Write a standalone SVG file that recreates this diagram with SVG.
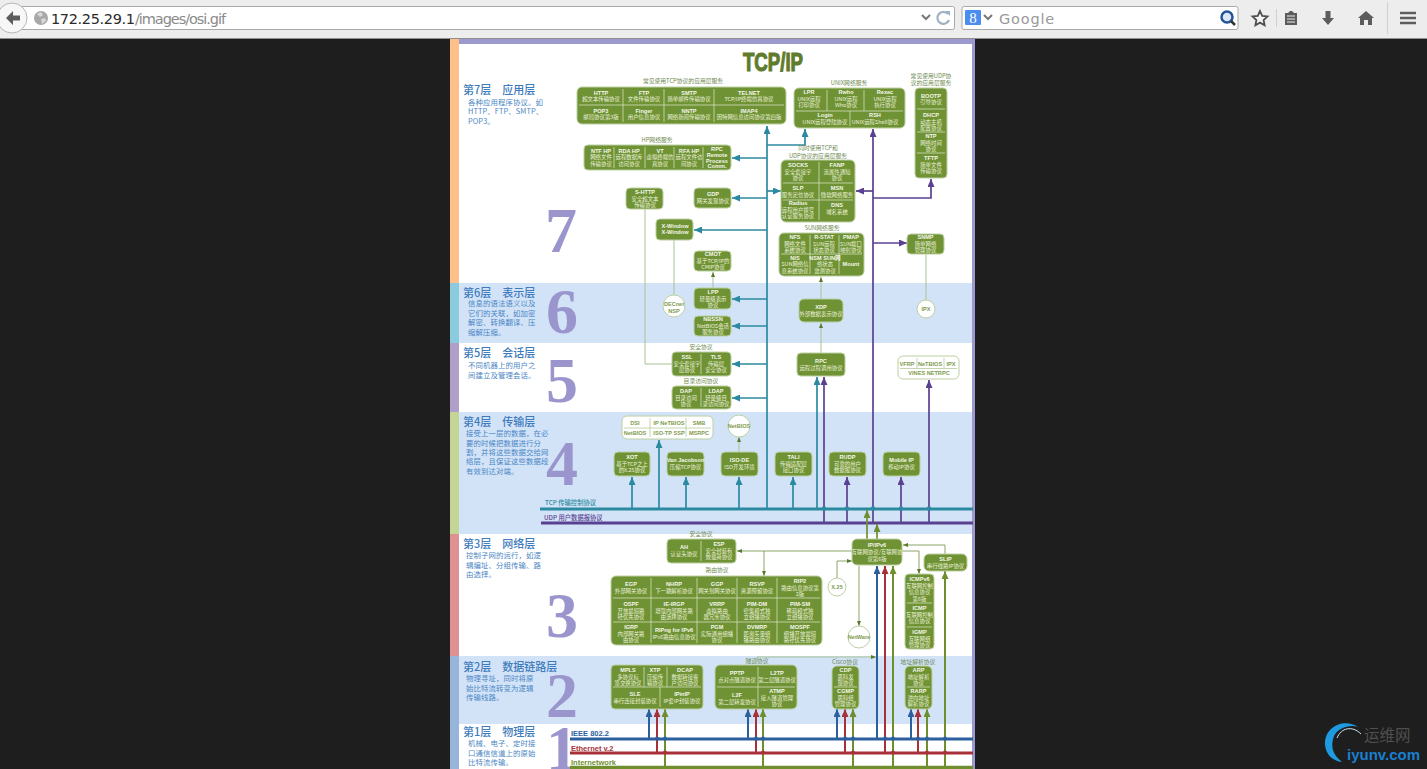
<svg xmlns="http://www.w3.org/2000/svg" width="1427" height="769" viewBox="0 0 1427 769">
<style>
text{font-family:"Noto Sans CJK SC","Liberation Sans",sans-serif}
.n{fill:#6f9234;stroke:#bcd0a2;stroke-width:1}
.w{fill:#fff;stroke:#bcd0a2;stroke-width:1}
.d{stroke:#d3dfbc;stroke-width:.8;fill:none}
.t{fill:#eef3df;font-size:5.4px;text-anchor:middle}
.b{fill:#f4f7ea;font-size:5.6px;font-weight:700;text-anchor:middle;font-family:"Liberation Sans","Noto Sans CJK SC",sans-serif}
.g{fill:#7f9b4f;font-size:5.6px;text-anchor:middle;font-weight:700;font-family:"Liberation Sans","Noto Sans CJK SC",sans-serif}
.c{fill:#6f8a52;font-size:5.8px;text-anchor:middle}
.h{fill:#3f7cbc;font-size:11px;font-weight:500}
.p{fill:#4a86c4;font-size:7.4px;letter-spacing:.1px}
.big{fill:#9a96cd;font-size:64px;font-weight:700;font-family:"Liberation Serif",serif}
.l{fill:none;stroke-width:1.7}
.k{fill:none;stroke-width:2}
.te{stroke:#2c8aa0}.pu{stroke:#5a4090}.bl{stroke:#2c5f9e}.re{stroke:#a83038}.gr{stroke:#6f8f2f}
.lt{fill:none;stroke:#a9c293;stroke-width:1}
.th{fill:none;stroke:#7d9a55;stroke-width:.9}
.ico{fill:#5c5c5c}
</style>
<defs>
<marker id="aTe" markerUnits="userSpaceOnUse" markerWidth="8" markerHeight="7" refX="8" refY="3.500" orient="auto"><path d="M0 0L8 3.500L0 7z" fill="#2c8aa0"/></marker>
<marker id="aPu" markerUnits="userSpaceOnUse" markerWidth="8" markerHeight="7" refX="8" refY="3.500" orient="auto"><path d="M0 0L8 3.500L0 7z" fill="#5a4090"/></marker>
<marker id="aBl" markerUnits="userSpaceOnUse" markerWidth="8" markerHeight="7" refX="8" refY="3.500" orient="auto"><path d="M0 0L8 3.500L0 7z" fill="#2c5f9e"/></marker>
<marker id="aRe" markerUnits="userSpaceOnUse" markerWidth="8" markerHeight="7" refX="8" refY="3.500" orient="auto"><path d="M0 0L8 3.500L0 7z" fill="#a83038"/></marker>
<marker id="aGr" markerUnits="userSpaceOnUse" markerWidth="8" markerHeight="7" refX="8" refY="3.500" orient="auto"><path d="M0 0L8 3.500L0 7z" fill="#6f8f2f"/></marker>
<marker id="aSm" markerUnits="userSpaceOnUse" markerWidth="5" markerHeight="4" refX="5" refY="2" orient="auto"><path d="M0 0L5 2L0 4z" fill="#587a2a"/></marker>
</defs>

<rect width="1427" height="769" fill="#1e1e1e"/>

<g id="browser-chrome">
<rect width="1427" height="38" fill="#ededed"/>
<rect y="38" width="1427" height="1" fill="#8f8f8f"/>
<rect x="16" y="6.500" width="938.500" height="23" rx="2" fill="#fff" stroke="#a9a9a9"/>
<circle cx="12" cy="18" r="15" fill="#f7f7f7" stroke="#b5b5b5"/>
<path d="M6 18L13 11V15.500H20V20.500H13V25z" class="ico"/>
<circle cx="41" cy="18" r="7" fill="#a8a8a8"/>
<path d="M37 14l4-2 2 3-3 2zM41 19l4-1 1 3-4 3z" fill="#d8d8d8"/>
<text x="51" y="24" font-size="14.500" fill="#2b2b2b" style="font-family:'DejaVu Sans',sans-serif" textLength="84">172.25.29.1</text>
<text x="135" y="24" font-size="14.500" fill="#8a8a8a" style="font-family:'DejaVu Sans',sans-serif" textLength="91">/images/osi.gif</text>
<path d="M922 15l4 4 4-4" fill="none" stroke="#777" stroke-width="2"/>
<path d="M948 14a6 6 0 1 0 1 6" fill="none" stroke="#9fb2c4" stroke-width="2.200"/><path d="M945 11h5v5z" fill="#9fb2c4"/>
<rect x="962" y="6.500" width="276" height="23" rx="2" fill="#fff" stroke="#a9a9a9"/>
<rect x="965" y="10" width="16" height="15" rx="1" fill="#4a8cf0"/>
<text x="973" y="23" font-size="15" fill="#fff" text-anchor="middle" style="font-family:'Liberation Serif',serif">8</text>
<path d="M984 15l4 4 4-4" fill="none" stroke="#777" stroke-width="2"/>
<text x="999" y="24" font-size="14.500" fill="#999" letter-spacing=".8" style="font-family:'DejaVu Sans',sans-serif">Google</text>
<circle cx="1227" cy="17" r="5.500" fill="#dbe8f7" stroke="#23549a" stroke-width="2.500"/><path d="M1231 21l4 4" stroke="#333" stroke-width="2.500"/>
<path d="M1260 11l2.200 4.800 5.300.6-3.900 3.600 1 5.200-4.600-2.600-4.600 2.600 1-5.200-3.900-3.600 5.300-.6z" fill="#f4f4f4" stroke="#4f4f4f" stroke-width="1.800"/>
<rect x="1276" y="9" width="1" height="18" fill="#d0d0d0"/>
<path d="M1285 13h3l2-2h2l2 2h3v12h-12z" class="ico"/><path d="M1287 16h8M1287 19h8M1287 22h8" stroke="#eee"/>
<path d="M1325.500 11h5v7h3.500l-6 7-6-7h3.500z" class="ico"/>
<path d="M1366 11l-8 7h2v7h4v-5h4v5h4v-7h2z" class="ico"/>
<rect x="1387" y="2" width="1" height="32" fill="#d0d0d0"/>
<path d="M1400 13h16M1400 18h16M1400 23h16" stroke="#5c5c5c" stroke-width="2.500"/>
</g>

<g id="page">
<rect x="450" y="39" width="525" height="730" fill="#fff"/>
<rect x="459" y="283" width="513" height="60" fill="#d2e3f8"/>
<rect x="459" y="412" width="513" height="122" fill="#d2e3f8"/>
<rect x="459" y="656" width="513" height="68" fill="#d2e3f8"/>
<rect x="450" y="39" width="525" height="5" fill="#9b99cd"/>
<rect x="972" y="39" width="3" height="730" fill="#9b99cd"/>
<rect x="450" y="39" width="9" height="244" fill="#fdc08a"/>
<rect x="450" y="283" width="9" height="60" fill="#8ccadd"/>
<rect x="450" y="343" width="9" height="69" fill="#b09fc6"/>
<rect x="450" y="412" width="9" height="122" fill="#c4d695"/>
<rect x="450" y="534" width="9" height="122" fill="#df9090"/>
<rect x="450" y="656" width="9" height="113" fill="#97b5d9"/>
</g>

<g id="title"><text x="743" y="71" font-size="26" font-weight="700" fill="#5f7c2c" stroke="#5f7c2c" stroke-width="1.200" textLength="60" lengthAdjust="spacingAndGlyphs" style="font-family:'Liberation Sans',sans-serif">TCP/IP</text></g>

<g id="layer-labels">
<text class="big" x="545" y="252">7</text>
<text class="big" x="546" y="333">6</text>
<text class="big" x="546" y="402">5</text>
<text class="big" x="546" y="485">4</text>
<text class="big" x="546" y="637">3</text>
<text class="big" x="546" y="717">2</text>
<text class="big" x="546" y="770">1</text>
<text class="h" x="463" y="93.500">第7层　应用层</text>
<text class="p" x="468" y="104.500">各种应用程序协议。如</text><text class="p" x="468" y="114">HTTP、FTP、SMTP、</text><text class="p" x="468" y="124">POP3。</text>
<text class="h" x="463" y="296.500">第6层　表示层</text>
<text class="p" x="468" y="306">信息的语法语义以及</text><text class="p" x="468" y="315.500">它们的关联，如加密</text><text class="p" x="468" y="325">解密、转换翻译、压</text><text class="p" x="468" y="334.500">缩解压缩。</text>
<text class="h" x="463" y="357">第5层　会话层</text>
<text class="p" x="468" y="368">不同机器上的用户之</text><text class="p" x="468" y="377.500">间建立及管理会话。</text>
<text class="h" x="463" y="426">第4层　传输层</text>
<text class="p" x="466" y="436">接受上一层的数据，在必</text><text class="p" x="466" y="445.500">要的时候把数据进行分</text><text class="p" x="466" y="454.500">割，并将这些数据交给网</text><text class="p" x="466" y="464">络层，且保证这些数据段</text><text class="p" x="466" y="473.500">有效到达对端。</text>
<text class="h" x="463" y="548">第3层　网络层</text>
<text class="p" x="466" y="558">控制子网的运行，如逻</text><text class="p" x="466" y="567.500">辑编址、分组传输、路</text><text class="p" x="466" y="577">由选择。</text>
<text class="h" x="463" y="671">第2层　数据链路层</text>
<text class="p" x="466" y="681">物理寻址，同时将原</text><text class="p" x="466" y="690.500">始比特流转变为逻辑</text><text class="p" x="466" y="700">传输线路。</text>
<text class="h" x="463" y="736">第1层　物理层</text>
<text class="p" x="468" y="746">机械、电子、定时接</text><text class="p" x="468" y="755.500">口通信信道上的原始</text><text class="p" x="468" y="765">比特流传输。</text>
</g>

<g id="connectors">
<path class="lt" d="M645 209V364H672"/>
<path class="lt" d="M674 240V295"/>
<path class="lt" d="M926 254V300"/>
<path class="lt" d="M713 288V272" marker-end="url(#aSm)"/>
<path class="lt" d="M821 299V277" marker-end="url(#aSm)"/>
<path class="lt" d="M821 353V323" marker-end="url(#aSm)"/>
<path class="lt" d="M739 452V437" marker-end="url(#aSm)"/>
<path class="th" d="M852 551H737" marker-end="url(#aSm)"/>
<path class="th" d="M764 551V576" marker-end="url(#aSm)"/>
<path class="th" d="M837 578V561H852" marker-end="url(#aSm)"/>
<path class="th" d="M859 566V626" marker-end="url(#aSm)"/>
<path class="th" d="M902 551H919V574" marker-end="url(#aSm)"/>
<path class="th" d="M945 554V545H903" marker-end="url(#aSm)"/>
<path class="lt" d="M757 662V657H876" marker-end="url(#aSm)"/>
<path class="l pu" d="M824 523V377" marker-end="url(#aPu)"/>
<path class="l pu" d="M847 523V477" marker-end="url(#aPu)"/>
<path class="l pu" d="M901 523V477" marker-end="url(#aPu)"/>
<path class="l pu" d="M929 523V380" marker-end="url(#aPu)"/>
<path class="l pu" d="M873 523V129" marker-end="url(#aPu)"/>
<path class="l pu" d="M873 191H856" marker-end="url(#aPu)"/>
<path class="l pu" d="M873 198H931V179" marker-end="url(#aPu)"/>
<path class="l pu" d="M873 243H907" marker-end="url(#aPu)"/>
<path d="M541 523H973" fill="none" stroke="#5a4090" stroke-width="3"/>
<path d="M540 509H973" fill="none" stroke="#2c8aa0" stroke-width="3"/>
<g fill="#2c8aa0"><circle cx="824" cy="508.500" r="2.200"/><circle cx="847" cy="508.500" r="2.200"/><circle cx="873" cy="508.500" r="2.200"/><circle cx="901" cy="508.500" r="2.200"/><circle cx="929" cy="508.500" r="2.200"/></g>
<path class="l te" d="M632 509V477" marker-end="url(#aTe)"/>
<path class="l te" d="M659 509V440" marker-end="url(#aTe)"/>
<path class="l te" d="M686 509V477" marker-end="url(#aTe)"/>
<path class="l te" d="M739 509V477" marker-end="url(#aTe)"/>
<path class="l te" d="M793 509V477" marker-end="url(#aTe)"/>
<path class="l te" d="M817 509V377" marker-end="url(#aTe)"/>
<path class="l te" d="M767 509V126" marker-end="url(#aTe)"/>
<path class="l te" d="M767 145H805V129" marker-end="url(#aTe)"/>
<path class="l te" d="M767 158H732" marker-end="url(#aTe)"/>
<path class="l te" d="M767 198H732" marker-end="url(#aTe)"/>
<path class="l te" d="M767 191H781" marker-end="url(#aTe)"/>
<path class="l te" d="M767 230H694" marker-end="url(#aTe)"/>
<path class="l te" d="M767 299H732" marker-end="url(#aTe)"/>
<path class="l te" d="M767 326H732" marker-end="url(#aTe)"/>
<path class="l te" d="M767 364H732" marker-end="url(#aTe)"/>
<path class="l te" d="M767 398H732" marker-end="url(#aTe)"/>
<path class="l gr" d="M867 539V510" marker-end="url(#aGr)"/>
<path class="l gr" d="M877 539V524" marker-end="url(#aGr)"/>
<g>
<path class="k gr" d="M665 767V709" marker-end="url(#aGr)"/><path class="k gr" d="M763 767V709" marker-end="url(#aGr)"/><path class="k gr" d="M853 767V709" marker-end="url(#aGr)"/><path class="k gr" d="M927 767V709" marker-end="url(#aGr)"/><path class="k gr" d="M893 767V566" marker-end="url(#aGr)"/><path class="k gr" d="M945 767V571" marker-end="url(#aGr)"/>
<path class="k re" d="M657 753V709" marker-end="url(#aRe)"/><path class="k re" d="M756 753V709" marker-end="url(#aRe)"/><path class="k re" d="M845 753V709" marker-end="url(#aRe)"/><path class="k re" d="M918 753V709" marker-end="url(#aRe)"/><path class="k re" d="M885 753V566" marker-end="url(#aRe)"/>
<path class="k bl" d="M649 739V709" marker-end="url(#aBl)"/><path class="k bl" d="M748 739V709" marker-end="url(#aBl)"/><path class="k bl" d="M837 739V709" marker-end="url(#aBl)"/><path class="k bl" d="M911 739V709" marker-end="url(#aBl)"/><path class="k bl" d="M877 739V566" marker-end="url(#aBl)"/>
</g>
<path d="M570 739H973" fill="none" stroke="#2c5f9e" stroke-width="3"/>
<path d="M570 753H973" fill="none" stroke="#a83038" stroke-width="3"/>
<path d="M570 767.500H973" fill="none" stroke="#6f8f2f" stroke-width="3.500"/>
<g fill="#2c5f9e"><circle cx="657" cy="738.500" r="2"/><circle cx="665" cy="738.500" r="2"/><circle cx="756" cy="738.500" r="2"/><circle cx="763" cy="738.500" r="2"/><circle cx="845" cy="738.500" r="2"/><circle cx="853" cy="738.500" r="2"/><circle cx="885" cy="738.500" r="2"/><circle cx="893" cy="738.500" r="2"/><circle cx="918" cy="738.500" r="2"/><circle cx="927" cy="738.500" r="2"/><circle cx="945" cy="738.500" r="2"/></g>
<g fill="#a83038"><circle cx="665" cy="752.500" r="2"/><circle cx="763" cy="752.500" r="2"/><circle cx="853" cy="752.500" r="2"/><circle cx="893" cy="752.500" r="2"/><circle cx="927" cy="752.500" r="2"/><circle cx="945" cy="752.500" r="2"/></g>
<text x="545" y="505" font-size="6.300" fill="#2c8aa0" font-weight="500">TCP 传输控制协议</text>
<text x="544" y="519.500" font-size="6.300" fill="#5a4090" font-weight="500">UDP 用户数据报协议</text>
<text x="571" y="736" font-size="7.500" fill="#2c5f9e" font-weight="700" style="font-family:'Liberation Sans',sans-serif">IEEE 802.2</text>
<text x="571" y="750.500" font-size="7.500" fill="#a83038" font-weight="700" style="font-family:'Liberation Sans',sans-serif">Ethernet v.2</text>
<text x="571" y="764.500" font-size="7.500" fill="#6f8f2f" font-weight="700" style="font-family:'Liberation Sans',sans-serif">Internetwork</text>
</g>

<g id="tcp-apps">
<text class="c" x="683" y="83">常见使用TCP协议的应用层服务</text>
<rect class="n" x="577" y="87" width="209" height="37" rx="5"/>
<path class="d" d="M623 89V122M664 89V122M714 89V122M579 105H784"/>
<text class="b" x="601" y="95">HTTP</text><text class="t" x="601" y="101">超文本传输协议</text>
<text class="b" x="644" y="95">FTP</text><text class="t" x="644" y="101">文件传输协议</text>
<text class="b" x="689" y="95">SMTP</text><text class="t" x="689" y="101">简单邮件传输协议</text>
<text class="b" x="749" y="95">TELNET</text><text class="t" x="749" y="101">TCP/IP终端仿真协议</text>
<text class="b" x="601" y="113">POP3</text><text class="t" x="601" y="119">邮局协议第3版</text>
<text class="b" x="644" y="113">Finger</text><text class="t" x="644" y="119">用户信息协议</text>
<text class="b" x="689" y="113">NNTP</text><text class="t" x="689" y="119">网络新闻传输协议</text>
<text class="b" x="749" y="113">IMAP4</text><text class="t" x="749" y="119">因特网信息访问协议第四版</text>
</g>

<g id="unix-services">
<text class="c" x="849" y="85">UNIX网络服务</text>
<rect class="n" x="794" y="88" width="111" height="40" rx="5"/>
<path class="d" d="M827 90V111M864 90V111M796 111H903M850 111V126"/>
<text class="b" x="809" y="94">LPR</text><text class="t" x="809" y="100.500">UNIX远程</text><text class="t" x="809" y="107">打印协议</text>
<text class="b" x="846" y="94">Rwho</text><text class="t" x="846" y="100.500">UNIX远程</text><text class="t" x="846" y="107">Who协议</text>
<text class="b" x="885" y="94">Rexec</text><text class="t" x="885" y="100.500">UNIX远程</text><text class="t" x="885" y="107">执行协议</text>
<text class="b" x="825" y="117">Login</text><text class="t" x="825" y="124">UNIX远程登陆协议</text>
<text class="b" x="875" y="117">RSH</text><text class="t" x="875" y="124">UNIX远程Shell协议</text>
</g>

<g id="udp-apps">
<text class="c" x="931" y="78">常见使用UDP协</text><text class="c" x="931" y="85">议的应用层服务</text>
<rect class="n" x="915" y="88" width="32" height="90" rx="4"/>
<path class="d" d="M917 109H945M917 132H945M917 153H945"/>
<text class="b" x="931" y="98">BOOTP</text><text class="t" x="931" y="104">引导协议</text>
<text class="b" x="931" y="117">DHCP</text><text class="t" x="931" y="123.500">动态主机</text><text class="t" x="931" y="130">配置协议</text>
<text class="b" x="931" y="138">NTP</text><text class="t" x="931" y="145">网络时间</text><text class="t" x="931" y="151">协议</text>
<text class="b" x="931" y="160">TFTP</text><text class="t" x="931" y="167">简单文件</text><text class="t" x="931" y="173">传输协议</text>
</g>

<g id="hp-services">
<text class="c" x="657" y="141.500">HP网络服务</text>
<rect class="n" x="584" y="145" width="147" height="25" rx="4"/>
<path class="d" d="M614 147V168M645 147V168M674 147V168M703 147V168"/>
<text class="b" x="601" y="153">NTF HP</text><text class="t" x="601" y="159">网络文件</text><text class="t" x="601" y="165.500">传输协议</text>
<text class="b" x="629" y="153">RDA HP</text><text class="t" x="629" y="159">远程数据库</text><text class="t" x="629" y="165.500">访问协议</text>
<text class="b" x="660" y="153">VT</text><text class="t" x="660" y="159">虚拟终端仿</text><text class="t" x="660" y="165.500">真协议</text>
<text class="b" x="689" y="153">RFA HP</text><text class="t" x="689" y="159">远程文件访</text><text class="t" x="689" y="165.500">问协议</text>
<text class="b" x="717" y="150.500">RPC</text><text class="b" x="717" y="156.500">Remote</text><text class="b" x="717" y="162.500">Process</text><text class="b" x="717" y="168">Comm.</text>
</g>

<g id="s-http"><rect class="n" x="626" y="188" width="37" height="21" rx="4"/><text class="b" x="645" y="194">S-HTTP</text><text class="t" x="645" y="200.500">安全超文本</text><text class="t" x="645" y="207">传输协议</text></g>
<g id="gdp"><rect class="n" x="694" y="188" width="37" height="20" rx="4"/><text class="b" x="713" y="196">GDP</text><text class="t" x="713" y="203">网关发现协议</text></g>
<g id="x-window"><rect class="n" x="656" y="219" width="37" height="21" rx="4"/><text class="b" x="675" y="228">X-Window</text><text class="b" x="675" y="234">X-Window</text></g>
<g id="cmot"><rect class="n" x="694" y="251" width="37" height="20" rx="4"/><text class="b" x="713" y="256">CMOT</text><text class="t" x="713" y="262.500">基于TCP/IP的</text><text class="t" x="713" y="269">CMIP协议</text></g>

<g id="tcp-udp-apps">
<text class="c" x="818" y="150">同时使用TCP和</text><text class="c" x="818" y="157.500">UDP协议的应用层服务</text>
<rect class="n" x="781" y="160" width="74" height="62" rx="5"/>
<path class="d" d="M819 162V220M783 183H853M783 200H853"/>
<text class="b" x="798" y="167">SOCKS</text><text class="t" x="798" y="173.500">安全套接字</text><text class="t" x="798" y="180">协议</text>
<text class="b" x="837" y="167">FANP</text><text class="t" x="837" y="173.500">流属性通知</text><text class="t" x="837" y="180">协议</text>
<text class="b" x="798" y="189.500">SLP</text><text class="t" x="798" y="196.500">服务定位协议</text>
<text class="b" x="837" y="189.500">MSN</text><text class="t" x="837" y="196.500">微软网络服务</text>
<text class="b" x="798" y="205">Radius</text><text class="t" x="798" y="211.500">远程用户拨号</text><text class="t" x="798" y="218">认证服务协议</text>
<text class="b" x="837" y="207">DNS</text><text class="t" x="837" y="214">域名系统</text>
</g>

<g id="sun-services">
<text class="c" x="822" y="230">SUN网络服务</text>
<rect class="n" x="779" y="233" width="85" height="43" rx="5"/>
<path class="d" d="M810 235V274M839 235V274M781 254H862"/>
<text class="b" x="795" y="239">NFS</text><text class="t" x="795" y="245.500">网络文件</text><text class="t" x="795" y="252">系统协议</text>
<text class="b" x="824" y="239">R-STAT</text><text class="t" x="824" y="245.500">SUN远程</text><text class="t" x="824" y="252">状态协议</text>
<text class="b" x="851" y="239">PMAP</text><text class="t" x="851" y="245.500">SUN端口</text><text class="t" x="851" y="252">映射协议</text>
<text class="b" x="795" y="259.500">NIS</text><text class="t" x="795" y="266">SUN网络信</text><text class="t" x="795" y="272.500">息系统协议</text>
<text class="b" x="825" y="259.500">NSM SUN网</text><text class="t" x="825" y="266">络状态</text><text class="t" x="825" y="272.500">监测协议</text>
<text class="b" x="851" y="266">Mount</text>
</g>

<g id="snmp"><rect class="n" x="907" y="234" width="37" height="20" rx="4"/><text class="b" x="925.500" y="239">SNMP</text><text class="t" x="925.500" y="245.500">简单网络</text><text class="t" x="925.500" y="252">管理协议</text></g>
<g id="lpp"><rect class="n" x="694" y="288" width="37" height="21" rx="4"/><text class="b" x="713" y="294">LPP</text><text class="t" x="713" y="300.500">轻量级表示</text><text class="t" x="713" y="307">协议</text></g>
<g id="nbssn"><rect class="n" x="694" y="316" width="37" height="20" rx="4"/><text class="b" x="713" y="321">NBSSN</text><text class="t" x="713" y="327.500">NetBIOS会话</text><text class="t" x="713" y="334">服务协议</text></g>
<g id="decnet"><circle class="w" cx="674" cy="306" r="11"/><text class="g" x="674" y="306">DECnet</text><text class="g" x="674" y="312.500">NSP</text></g>
<g id="xdp"><rect class="n" x="799" y="299" width="44" height="23" rx="5"/><text class="b" x="821" y="309">XDP</text><text class="t" x="821" y="316">外部数据表示协议</text></g>
<g id="ipx"><circle class="w" cx="926" cy="309" r="9"/><text class="g" x="926" y="311">IPX</text></g>

<g id="security-session">
<text class="c" x="701" y="349">安全协议</text>
<rect class="n" x="672" y="352" width="59" height="24" rx="4"/><path class="d" d="M701 354V374"/>
<text class="b" x="687" y="359">SSL</text><text class="t" x="687" y="365.500">安全套接字</text><text class="t" x="687" y="372">层协议</text>
<text class="b" x="716" y="359">TLS</text><text class="t" x="716" y="365.500">传输层</text><text class="t" x="716" y="372">安全协议</text>
</g>
<g id="directory">
<text class="c" x="701" y="382.500">目录访问协议</text>
<rect class="n" x="672" y="386" width="59" height="23" rx="4"/><path class="d" d="M701 388V407"/>
<text class="b" x="686" y="393">DAP</text><text class="t" x="686" y="399.500">目录访问</text><text class="t" x="686" y="405.500">协议</text>
<text class="b" x="716" y="393">LDAP</text><text class="t" x="716" y="399.500">轻量级目</text><text class="t" x="716" y="405.500">录访问协议</text>
</g>
<g id="rpc"><rect class="n" x="797" y="353" width="48" height="23" rx="4"/><text class="b" x="821" y="362.500">RPC</text><text class="t" x="821" y="369.500">远程过程调用协议</text></g>
<g id="vines">
<rect class="w" x="898" y="356" width="61" height="23" rx="5"/>
<path d="M917 358V368M944 358V368M900 368.500H957" fill="none" stroke="#b5c99c" stroke-width=".8"/>
<text class="g" x="907" y="366">VFRP</text><text class="g" x="930" y="366">NeTBIOS</text><text class="g" x="951" y="366">IPX</text><text class="g" x="929" y="374.500">VINES NETRPC</text>
</g>

<g id="session-services">
<rect class="w" x="622" y="416" width="91" height="23" rx="5"/>
<path d="M650 418V437M686 418V437M624 428H711" fill="none" stroke="#b5c99c" stroke-width=".8"/>
<text class="g" x="635" y="424.500">DSI</text><text class="g" x="669" y="424.500">IP NeTBIOS</text><text class="g" x="699" y="424.500">SMB</text>
<text class="g" x="635" y="434.500">NetBIOS</text><text class="g" x="669" y="434.500">ISO-TP SSP</text><text class="g" x="699" y="434.500">MSRPC</text>
</g>
<g id="netbios"><circle class="w" cx="739" cy="426" r="11"/><text class="g" x="739" y="428">NetBIOS</text></g>
<g id="xot"><rect class="n" x="614" y="452" width="36" height="24" rx="4"/><text class="b" x="632" y="459">XOT</text><text class="t" x="632" y="465.500">基于TCP之上</text><text class="t" x="632" y="472">的X.25协议</text></g>
<g id="van-jacobson"><rect class="n" x="667" y="452" width="37" height="24" rx="4"/><text class="b" x="685.500" y="462">Van Jacobson</text><text class="t" x="685.500" y="469">压缩TCP协议</text></g>
<g id="iso-de"><rect class="n" x="721" y="452" width="37" height="24" rx="4"/><text class="b" x="739.500" y="462">ISO-DE</text><text class="t" x="739.500" y="469">ISO开发环境</text></g>
<g id="tali"><rect class="n" x="775" y="452" width="37" height="24" rx="4"/><text class="b" x="793.500" y="459">TALI</text><text class="t" x="793.500" y="465.500">传输适配层</text><text class="t" x="793.500" y="472">接口协议</text></g>
<g id="rudp"><rect class="n" x="829" y="452" width="37" height="24" rx="4"/><text class="b" x="847.500" y="459">RUDP</text><text class="t" x="847.500" y="465.500">可靠的用户</text><text class="t" x="847.500" y="472">数据报协议</text></g>
<g id="mobile-ip"><rect class="n" x="883" y="452" width="37" height="24" rx="4"/><text class="b" x="901.500" y="462">Mobile IP</text><text class="t" x="901.500" y="469">移动IP协议</text></g>

<g id="ah-esp">
<text class="c" x="701" y="536">安全协议</text>
<rect class="n" x="667" y="539" width="69" height="24" rx="4"/><path class="d" d="M701 541V561"/>
<text class="b" x="684" y="549">AH</text><text class="t" x="684" y="555.500">认证头协议</text>
<text class="b" x="719" y="546">ESP</text><text class="t" x="719" y="552.500">安全封装有</text><text class="t" x="719" y="559">效载荷协议</text>
</g>

<g id="routing">
<text class="c" x="717" y="571.500">路由协议</text>
<rect class="n" x="611" y="576" width="211" height="69" rx="5"/>
<path class="d" d="M651 578V643M697 578V643M737 578V643M777 578V643M613 598H820M613 622H820"/>
<text class="b" x="631" y="586">EGP</text><text class="t" x="631" y="593">外部网关协议</text>
<text class="b" x="674" y="586">NHRP</text><text class="t" x="674" y="593">下一跳解析协议</text>
<text class="b" x="717" y="586">GGP</text><text class="t" x="717" y="593">网关到网关协议</text>
<text class="b" x="757" y="586">RSVP</text><text class="t" x="757" y="593">资源预留协议</text>
<text class="b" x="800" y="583">RIP2</text><text class="t" x="800" y="589.500">路由信息协议第</text><text class="t" x="800" y="596">2版</text>
<text class="b" x="631" y="606">OSPF</text><text class="t" x="631" y="612.500">开放最短路</text><text class="t" x="631" y="619">径优先协议</text>
<text class="b" x="674" y="606">IE-IRGP</text><text class="t" x="674" y="612.500">增强内部网关路</text><text class="t" x="674" y="619">由选择协议</text>
<text class="b" x="717" y="606">VRRP</text><text class="t" x="717" y="612.500">虚拟路由</text><text class="t" x="717" y="619">器冗余协议</text>
<text class="b" x="757" y="606">PIM-DM</text><text class="t" x="757" y="612.500">密集模式独</text><text class="t" x="757" y="619">立组播协议</text>
<text class="b" x="800" y="606">PIM-SM</text><text class="t" x="800" y="612.500">稀疏模式独</text><text class="t" x="800" y="619">立组播协议</text>
<text class="b" x="631" y="629">IGRP</text><text class="t" x="631" y="635.500">内部网关路</text><text class="t" x="631" y="642">由协议</text>
<text class="b" x="674" y="632">RIPng for IPv6</text><text class="t" x="674" y="639">IPv6路由信息协议</text>
<text class="b" x="717" y="629">PGM</text><text class="t" x="717" y="635.500">实际通用组播</text><text class="t" x="717" y="642">协议</text>
<text class="b" x="757" y="629">DVMRP</text><text class="t" x="757" y="635.500">距离矢量组</text><text class="t" x="757" y="642">播路由协议</text>
<text class="b" x="800" y="629">MOSPF</text><text class="t" x="800" y="635.500">组播开放最短</text><text class="t" x="800" y="642">路径优先协议</text>
</g>

<g id="ip"><rect class="n" x="852" y="539" width="50" height="26" rx="5"/><text class="b" x="877" y="547">IP/IPv6</text><text class="t" x="877" y="554">互联网协议/互联网协</text><text class="t" x="877" y="560.500">议第6版</text></g>
<g id="slip"><rect class="n" x="924" y="554" width="43" height="17" rx="5"/><text class="b" x="945.500" y="561">SLIP</text><text class="t" x="945.500" y="567.500">串行线路IP协议</text></g>
<g id="icmp">
<rect class="n" x="905" y="574" width="29" height="75" rx="4"/><path class="d" d="M907 603H932M907 627H932"/>
<text class="b" x="919.500" y="581">ICMPv6</text><text class="t" x="919.500" y="587.500">互联网控制</text><text class="t" x="919.500" y="594">信息协议</text><text class="t" x="919.500" y="600.500">第6版</text>
<text class="b" x="919.500" y="610">ICMP</text><text class="t" x="919.500" y="616.500">互联网控制</text><text class="t" x="919.500" y="623">信息协议</text>
<text class="b" x="919.500" y="634">IGMP</text><text class="t" x="919.500" y="640.500">互联网组</text><text class="t" x="919.500" y="647">管理协议</text>
</g>
<g id="x25"><circle class="w" cx="837" cy="587" r="9"/><text class="g" x="837" y="589">X.25</text></g>
<g id="netware"><circle class="w" cx="859" cy="637" r="11"/><text class="g" x="859" y="639">NetWare</text></g>

<g id="datalink">
<rect class="n" x="611" y="665" width="92" height="44" rx="4"/>
<path class="d" d="M644 667V687M667 667V687M613 687H701M660 687V707"/>
<text class="b" x="628" y="672">MPLS</text><text class="t" x="628" y="678.500">多协议标</text><text class="t" x="628" y="685">签交换协议</text>
<text class="b" x="655" y="672">XTP</text><text class="t" x="655" y="678.500">压缩传</text><text class="t" x="655" y="685">输协议</text>
<text class="b" x="685" y="672">DCAP</text><text class="t" x="685" y="678.500">数据转接客</text><text class="t" x="685" y="685">户访问协议</text>
<text class="b" x="635" y="696">SLE</text><text class="t" x="635" y="703">串行连接封装协议</text>
<text class="b" x="682" y="696">IPinIP</text><text class="t" x="682" y="703">IP套IP封装协议</text>
</g>
<g id="tunnel">
<text class="c" x="757" y="663">隧道协议</text>
<rect class="n" x="715" y="665" width="82" height="44" rx="5"/>
<path class="d" d="M758 667V707M717 687H795"/>
<text class="b" x="737" y="675">PPTP</text><text class="t" x="737" y="682">点对点隧道协议</text>
<text class="b" x="777" y="675">L2TP</text><text class="t" x="777" y="682">第二层隧道协议</text>
<text class="b" x="737" y="697">L2F</text><text class="t" x="737" y="703.500">第二层转发协议</text>
<text class="b" x="777" y="693">ATMP</text><text class="t" x="777" y="699.500">接入隧道管理</text><text class="t" x="777" y="706">协议</text>
</g>
<g id="cisco">
<text class="c" x="845" y="663.500">Cisco协议</text>
<rect class="n" x="832" y="666" width="27" height="43" rx="5"/><path class="d" d="M834 687H857"/>
<text class="b" x="845.500" y="672">CDP</text><text class="t" x="845.500" y="678.500">思科发</text><text class="t" x="845.500" y="685">现协议</text>
<text class="b" x="845.500" y="693">CGMP</text><text class="t" x="845.500" y="699.500">思科组</text><text class="t" x="845.500" y="706">管理协议</text>
</g>
<g id="address">
<text class="c" x="918" y="663.500">地址解析协议</text>
<rect class="n" x="905" y="666" width="27" height="43" rx="5"/><path class="d" d="M907 687H930"/>
<text class="b" x="918.500" y="672">ARP</text><text class="t" x="918.500" y="678.500">地址解析</text><text class="t" x="918.500" y="685">协议</text>
<text class="b" x="918.500" y="693">RARP</text><text class="t" x="918.500" y="699.500">逆向地址</text><text class="t" x="918.500" y="706">解析协议</text>
</g>

<g id="watermark">
<path d="M1358 727C1345 718 1324 726 1325 745C1326 755 1333 761 1342 762C1333 755 1330 747 1334 736C1338 728 1350 724 1358 727z" fill="#1e9be0"/>
<path d="M1361 734C1352 725 1341 728 1337 738" fill="none" stroke="#cfe9f8" stroke-width="1"/>
<text x="1364" y="741" font-size="15.500" fill="#4f4f4f">运维网</text>
<text x="1347" y="759.500" font-size="15" font-weight="700" fill="#1a7fd0" style="font-family:'Liberation Sans',sans-serif">iyunv.com</text>
</g>
</svg>
